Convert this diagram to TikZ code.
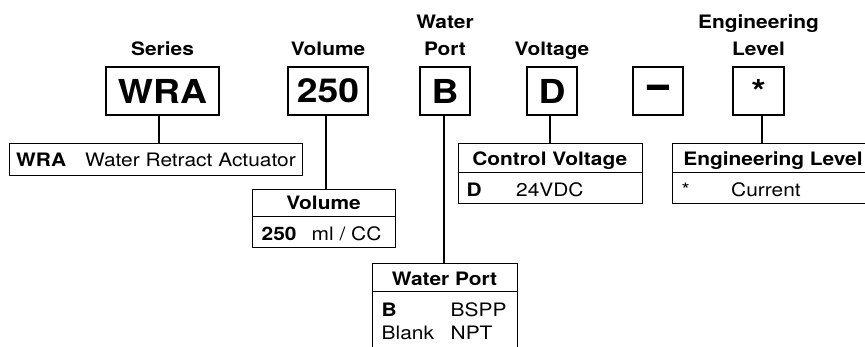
\documentclass[tikz,border=0pt]{standalone}
\usepackage{fontspec}
\setmainfont[FakeStretch=1.13]{TeX Gyre Heros}
\newfontfamily\heavyfont[FakeBold=4]{texgyreheros-bold.otf}
\usetikzlibrary{positioning}

\begin{document}
\begin{tikzpicture}[x=1pt, y=-1pt,
  codebox/.style={rectangle, draw, line width=1.2pt, minimum height=48pt, inner sep=0pt, font=\fontsize{33}{38}\selectfont\bfseries},
  fieldlabel/.style={align=center, inner sep=0pt, anchor=base, font=\fontsize{18.5}{26.5}\selectfont\bfseries},
  infobox/.style={rectangle, draw, line width=1pt, inner sep=0pt, anchor=north west},
  headtext/.style={inner sep=0pt, anchor=base, font=\fontsize{18.5}{21}\selectfont\bfseries},
  keytext/.style={inner sep=0pt, anchor=base west, font=\fontsize{18.5}{21}\selectfont\bfseries},
  valtext/.style={inner sep=0pt, anchor=base west, font=\fontsize{18.5}{21}\selectfont},
  link/.style={line width=2pt}]

  \useasboundingbox (0,0) rectangle (865,346);
  \clip (0,0) rectangle (865,346);

  % code boxes
  \node[codebox, minimum width=113pt] (series) at (162.5,91) {WRA};
  \node[codebox, minimum width=80pt] (volume) at (328,91) {250};
  \node[codebox, minimum width=50pt] (port) at (445,91) {B};
  \node[codebox, minimum width=50pt] (voltage) at (552,91) {D};
  \node[codebox, minimum width=50pt, font=\fontsize{36}{38}\heavyfont] (dash) at (658,91) {–};
  \node[codebox, minimum width=51pt] (level) at (758.5,91) {*};

  % field labels
  \node[fieldlabel] (serieslabel) at (162.5,55) {Series};
  \node[fieldlabel] (volumelabel) at (328,55) {Volume};
  \node[fieldlabel] (portlabel) at (445,55) {Water\\Port};
  \node[fieldlabel] (voltagelabel) at (552,55) {Voltage};
  \node[fieldlabel] (levellabel) at (758.5,55) {Engineering\\Level};

  % series table
  \node[infobox, minimum width=293pt, minimum height=32pt] (seriesinfo) at (9,143) {};
  \node[keytext] (serieskey) at (16,166) {WRA};
  \node[valtext] (seriesval) at (85,166) {Water Retract Actuator};

  % volume table
  \node[infobox, minimum width=143pt, minimum height=58.5pt] (volumeinfo) at (252,188.5) {};
  \draw[line width=1pt] ([yshift=-28pt]volumeinfo.north west) -- ([yshift=-28pt]volumeinfo.north east);
  \node[headtext] (volumehead) at (323.5,209.5) {Volume};
  \node[keytext] (volumekey) at (261.5,240.5) {250};
  \node[valtext] (volumeval) at (311.5,240.5) {ml / CC};

  % water port table
  \node[infobox, minimum width=144.5pt, minimum height=100pt] (portinfo) at (372.3,263.3) {};
  \draw[line width=1pt] ([yshift=-27.7pt]portinfo.north west) -- ([yshift=-27.7pt]portinfo.north east);
  \node[headtext] (porthead) at (444.5,285) {Water Port};
  \node[keytext] (portkeyb) at (381.5,316.5) {B};
  \node[valtext] (portvalb) at (450.5,316.5) {BSPP};
  \node[valtext] (portkeyn) at (381.5,339) {Blank};
  \node[valtext] (portvaln) at (450.5,339) {NPT};

  % control voltage table
  \node[infobox, minimum width=184pt, minimum height=59.4pt] (voltageinfo) at (457.7,143.3) {};
  \draw[line width=1pt] ([yshift=-29pt]voltageinfo.north west) -- ([yshift=-29pt]voltageinfo.north east);
  \node[headtext] (voltagehead) at (549.7,165.7) {Control Voltage};
  \node[keytext] (voltagekey) at (466.5,196) {D};
  \node[valtext] (voltageval) at (516,196) {24VDC};

  % engineering level table
  \node[infobox, minimum width=200pt, minimum height=59.4pt] (levelinfo) at (672,143.3) {};
  \draw[line width=1pt] ([yshift=-29pt]levelinfo.north west) -- ([yshift=-29pt]levelinfo.north east);
  \node[headtext] (levelhead) at (773,165.7) {Engineering Level};
  \node[valtext] (levelkey) at (681.5,196) {*};
  \node[valtext] (levelval) at (731,196) {Current};

  % links
  \draw[link] ([xshift=-3.5pt]series.south) -- ([xshift=-3.5pt]series.south |- seriesinfo.north);
  \draw[link] ([xshift=-2pt]volume.south) -- ([xshift=-2pt]volume.south |- volumeinfo.north);
  \draw[link] ([xshift=-1pt]port.south) -- ([xshift=-1pt]port.south |- portinfo.north);
  \draw[link] ([xshift=-2pt]voltage.south) -- ([xshift=-2pt]voltage.south |- voltageinfo.north);
  \draw[link] ([xshift=3.5pt]level.south) -- ([xshift=3.5pt]level.south |- levelinfo.north);

\end{tikzpicture}
\end{document}
